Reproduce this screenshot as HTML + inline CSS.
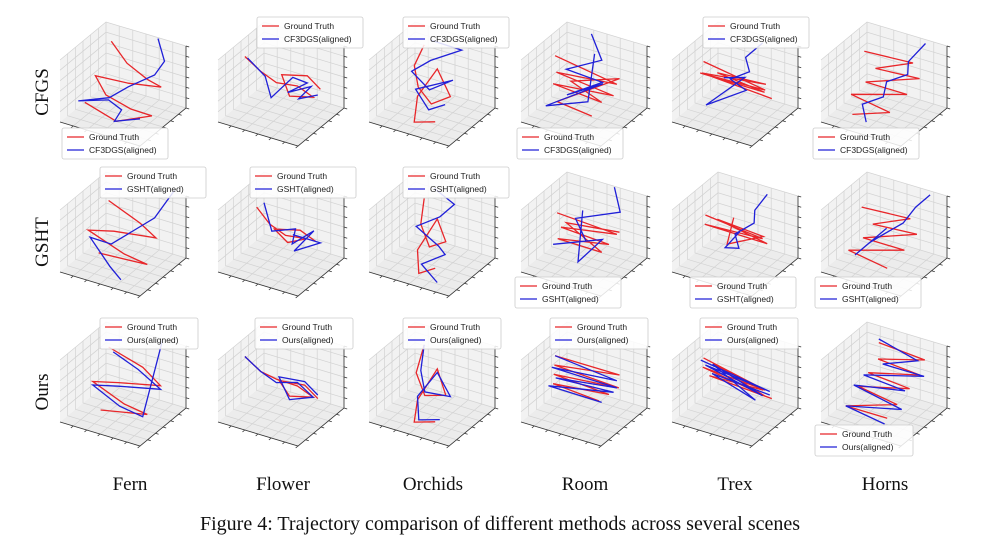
<!DOCTYPE html>
<html><head><meta charset="utf-8">
<style>
html,body{margin:0;padding:0;background:#fff;}
svg{display:block;font-family:"Liberation Serif",serif;}
.leg{font-family:"Liberation Sans",sans-serif;font-size:8.5px;fill:#222;}
</style></head>
<body>
<svg id="fig" width="1000" height="551" viewBox="0 0 1000 551">
<g id="panels"></g>
<g font-size="19" fill="#111">
<text transform="translate(48,92) rotate(-90)" text-anchor="middle">CFGS</text>
<text transform="translate(48,242) rotate(-90)" text-anchor="middle">GSHT</text>
<text transform="translate(48,392) rotate(-90)" text-anchor="middle">Ours</text>
</g>
<g font-size="19" fill="#111" text-anchor="middle">
<text x="130" y="490">Fern</text>
<text x="283" y="490">Flower</text>
<text x="433" y="490">Orchids</text>
<text x="585" y="490">Room</text>
<text x="735" y="490">Trex</text>
<text x="885" y="490">Horns</text>
</g>
<text x="500" y="530" font-size="20" text-anchor="middle" fill="#111">Figure 4: Trajectory comparison of different methods across several scenes</text>
</svg>
<script>
const colCenters = [123, 281, 432, 584, 735, 884];
const rowCenters = [84, 234, 384];
const methods = ["CF3DGS(aligned)", "GSHT(aligned)", "Ours(aligned)"];
const legendPos = [["b","t","t","b","t","b"],["t","t","t","b","b","b"],["t","t","t","t","t","b"]];
const legendX = [[62,257,403,517,703,813],[100,250,403,515,690,815],[100,255,403,550,700,815]];
const gt = [
 [[-0.6,0.6,0.6],[-0.2,0.5,0.2],[0.3,0.4,0],[0.6,0.4,-0.1],[0,0.2,-0.1],[-0.6,0,0],[-0.2,-0.3,-0.2],[0.4,-0.4,-0.3],[0.8,-0.3,-0.4],[0.2,-0.6,-0.6],[-0.6,-0.4,-0.5]],
 [[-0.9,0.2,0.3],[-0.5,0.1,0.1],[-0.1,0,0],[0.3,0.1,0],[0.7,0,-0.1],[0.3,-0.2,-0.1],[-0.1,0.2,0.1],[0.4,0.3,0.2],[0.8,0.1,0.1]],
 [[-0.4,0.4,0.7],[-0.5,0.2,0.2],[-0.3,0,-0.2],[0.1,-0.2,-0.4],[0.4,0,-0.2],[0,0.2,0.3],[-0.2,-0.2,-0.3],[-0.1,-0.5,-0.8],[0.3,-0.4,-0.7]],
 [[-0.8,0.3,0.3],[0.6,0.2,0.1],[-0.6,0,0.1],[0.7,-0.1,0],[-0.5,-0.3,0],[0.5,-0.2,-0.2],[-0.4,0.2,-0.2],[0.6,0.3,0.2],[-0.3,-0.5,-0.3],[0.4,-0.4,-0.5]],
 [[-0.8,0.2,0.2],[0.6,0.1,0],[-0.7,-0.1,0.1],[0.7,-0.1,0.1],[-0.5,0.2,0],[0.5,0.3,0],[-0.6,-0.2,0.2],[0.8,0,-0.1]],
 [[-0.6,0.3,0.5],[0.4,0.4,0.5],[-0.3,0.2,0.2],[0.6,0.3,0.2],[-0.4,0,-0.1],[0.5,0,-0.1],[-0.6,-0.2,-0.4],[0.3,-0.3,-0.5],[-0.4,-0.5,-0.7]],
 [[-0.6,0.5,0.4],[0.2,0.3,0.2],[0.6,0.2,0],[-0.2,0,0],[-0.7,-0.1,-0.1],[0.2,-0.3,-0.3],[0.7,-0.3,-0.4],[-0.3,-0.4,-0.4]],
 [[-0.7,0.3,0.3],[-0.3,0.1,0.1],[0.1,0,0],[0.5,0.1,0],[0.2,-0.1,-0.1],[-0.2,0.1,0],[0.3,0.2,0.1],[0.7,0.1,0]],
 [[-0.4,0.4,0.6],[-0.3,0.1,0.1],[0,-0.1,-0.3],[0.3,0,-0.1],[0,0.2,0.3],[-0.2,-0.2,-0.4],[0,-0.5,-0.8],[0.3,-0.4,-0.6]],
 [[-0.7,0.2,0.2],[0.6,0.2,0.1],[-0.5,0,0],[0.6,-0.1,0],[-0.4,-0.3,-0.1],[0.5,-0.2,-0.2],[-0.5,0.2,0],[0.6,0.3,0.1]],
 [[-0.7,0.1,0.2],[0.6,0,0.1],[-0.6,-0.1,0.1],[0.7,0,0],[-0.5,0.2,0.1],[0.5,0.2,0],[0,-0.3,-0.1],[-0.2,0.3,0.2]],
 [[-0.6,0.2,0.4],[0.4,0.3,0.4],[-0.3,0.1,0.1],[0.6,0.2,0.1],[-0.4,-0.1,-0.2],[0.5,-0.1,-0.2],[-0.6,-0.3,-0.5],[0.3,-0.4,-0.6]],
 [[-0.6,0.5,0.5],[0.2,0.4,0.3],[0.7,0.2,0.1],[-0.1,0,0],[-0.6,-0.1,-0.1],[0.2,-0.3,-0.3],[0.7,-0.3,-0.4],[-0.2,-0.5,-0.5]],
 [[-0.9,0.2,0.3],[-0.5,0.1,0.1],[-0.1,0,0.1],[0.3,0.1,0],[0.7,0,-0.1],[0.3,-0.2,-0.1],[-0.1,0.1,0],[0.4,0.2,0],[0.8,0,-0.1]],
 [[-0.4,0.4,0.7],[-0.4,0.1,0.1],[-0.1,-0.1,-0.3],[0.3,0,-0.2],[0,0.2,0.3],[-0.2,-0.2,-0.4],[-0.1,-0.5,-0.8],[0.3,-0.4,-0.7]],
 [[-0.8,0.3,0.3],[0.6,0.3,0.3],[-0.7,0.1,0.2],[0.7,0.1,0.1],[-0.6,-0.1,0.1],[0.6,-0.1,0],[-0.5,-0.3,0],[0.5,-0.3,-0.1]],
 [[-0.8,0.2,0.3],[0.6,0.1,0],[-0.7,0,0.2],[0.7,-0.1,0],[-0.6,0.2,0.2],[0.5,0.2,-0.1],[-0.5,-0.1,0.1],[0.8,0,-0.1]],
 [[-0.4,0.5,0.7],[0.6,0.5,0.6],[-0.3,0.3,0.4],[0.6,0.3,0.3],[-0.4,0.1,0.1],[0.5,0.1,0],[-0.5,-0.1,-0.2],[0.4,-0.2,-0.3],[-0.6,-0.4,-0.6],[0.3,-0.4,-0.6]]
];
const est = [
 [[0.3,0.8,0.9],[0.5,0.7,0.4],[0.4,0.5,0.1],[0,0.2,-0.2],[-0.3,0,-0.5],[-0.8,-0.3,-0.6],[-0.2,-0.2,-0.4],[0.2,-0.4,-0.4],[0.1,-0.5,-0.7],[0.6,-0.4,-0.5]],
 [[-0.9,0.3,0.2],[-0.4,0.1,0],[-0.1,-0.2,-0.3],[0.2,0.1,0.2],[0.4,0.3,0],[0.2,-0.1,-0.1],[0.6,0.1,0.1],[0.5,-0.2,-0.1],[0.8,0,0]],
 [[-0.3,0.5,0.8],[0.3,0.6,0.7],[-0.2,0.3,0.4],[-0.5,0.1,0.1],[0,-0.1,-0.1],[0.4,0.1,0.2],[-0.3,-0.1,-0.2],[0.1,-0.3,-0.5],[0.4,-0.2,-0.3]],
 [[-0.3,0.8,0.8],[0.1,0.5,0.4],[-0.5,0.2,0.1],[0.4,0,0.2],[-0.2,-0.3,-0.2],[0.3,0.2,0],[-0.6,-0.4,-0.6],[0.2,-0.2,-0.3],[0,0.4,0.6]],
 [[0.2,0.7,0.8],[0,0.4,0.5],[0.2,0.2,0.3],[-0.1,0,0.1],[0.3,-0.1,0],[-0.4,-0.4,-0.5],[0.1,0.2,0.1],[-0.3,0.1,0]],
 [[0.5,0.7,0.9],[0.3,0.4,0.5],[0.4,0.2,0.3],[0,0.1,0],[0.1,-0.2,-0.2],[-0.3,-0.3,-0.5],[-0.1,-0.5,-0.8]],
 [[0.6,0.9,0.9],[0.4,0.5,0.3],[0.1,0.2,0],[-0.2,-0.1,-0.3],[-0.6,-0.2,-0.2],[0,-0.5,-0.6],[0.3,-0.6,-0.8]],
 [[-0.6,0.4,0.4],[-0.2,0,0],[0.2,0.2,0.1],[0.3,-0.1,-0.1],[0.6,0.2,0.2],[0.4,-0.2,-0.2],[0.8,0.1,0],[0.2,0.1,0]],
 [[-0.3,0.6,0.8],[0.2,0.5,0.6],[0,0.3,0.3],[-0.4,0.1,0],[0.2,-0.1,-0.2],[0.4,-0.2,-0.3],[0,-0.4,-0.6],[0.4,-0.5,-0.9]],
 [[0.2,0.8,0.9],[0.5,0.5,0.5],[-0.3,0.2,0.2],[0.1,-0.1,-0.1],[-0.5,-0.3,-0.3],[0.4,0,0],[0.1,-0.4,-0.5],[-0.2,0.3,0.4]],
 [[0.3,0.7,0.8],[0.2,0.4,0.5],[0.3,0.2,0.3],[0,0,0],[0.2,-0.2,-0.2],[-0.1,-0.2,-0.3],[0.1,0,0.1]],
 [[0.6,0.7,0.9],[0.4,0.5,0.6],[0.3,0.2,0.3],[0,0,0],[-0.2,-0.2,-0.2],[-0.4,-0.4,-0.5],[0,0.1,0.1]],
 [[-0.5,0.5,0.4],[0.1,0.4,0.2],[0.7,0.2,0],[-0.1,0,-0.1],[-0.6,-0.1,-0.2],[0.1,-0.3,-0.4],[0.6,-0.3,-0.5],[0.4,0.8,0.9]],
 [[-0.9,0.2,0.3],[-0.5,0.1,0.1],[-0.1,0,0],[0.3,0.1,0.1],[0.7,0,-0.1],[0.3,-0.2,-0.2],[-0.1,0.1,0.1],[0.4,0.2,0.1],[0.8,0,0]],
 [[-0.4,0.4,0.7],[-0.3,0.1,0.2],[-0.1,-0.1,-0.2],[0.4,0,-0.2],[0,0.2,0.2],[-0.2,-0.2,-0.3],[0,-0.5,-0.7],[0.4,-0.4,-0.6]],
 [[-0.8,0.3,0.3],[0.6,0.2,0.2],[-0.7,0,0.2],[0.6,0.2,0],[-0.5,-0.2,0.1],[0.7,-0.1,0.1],[-0.6,-0.3,-0.1],[0.5,-0.2,-0.2]],
 [[-0.8,0.1,0.3],[0.7,0.1,0],[-0.7,0.1,0.2],[0.6,0,-0.1],[-0.6,0.2,0.2],[0.5,-0.1,-0.2],[-0.5,0,0.1],[0.7,0.1,-0.1]],
 [[-0.4,0.5,0.8],[0.5,0.4,0.6],[-0.2,0.3,0.3],[0.7,0.3,0.3],[-0.5,0.1,0],[0.4,0.1,-0.1],[-0.6,-0.1,-0.2],[0.5,-0.2,-0.4],[-0.6,-0.4,-0.6],[0.3,-0.5,-0.7]]
];
const NS = "http://www.w3.org/2000/svg";
function proj(cx, cy, p) {
  return [cx + 40*p[0] + 23*p[1], cy + 12*p[0] - 19*p[1] - 31*p[2]];
}
function mk(tag, attrs, parent) {
  const e = document.createElementNS(NS, tag);
  for (const k in attrs) e.setAttribute(k, attrs[k]);
  parent.appendChild(e); return e;
}
function poly(cx, cy, pts, k) { k = k || 1; return pts.map(p => proj(cx, cy, [p[0]*k, p[1]*k, p[2]*k]).map(v => v.toFixed(1)).join(",")).join(" "); }
const root = document.getElementById("panels");
for (let r = 0; r < 3; r++) for (let c = 0; c < 6; c++) {
  const i = r*6 + c, cx = colCenters[c], cy = rowCenters[r];
  const g = mk("g", {}, root);
  
  
  const panes = [
    [[-1,-1,-1],[1,-1,-1],[1,1,-1],[-1,1,-1]],
    [[-1,-1,-1],[-1,1,-1],[-1,1,1],[-1,-1,1]],
    [[-1,1,-1],[1,1,-1],[1,1,1],[-1,1,1]]
  ];
  panes.forEach((pp, k) => {
    const pe = mk("polygon", {points: poly(cx, cy, pp), fill: k==0?"#ececec":"#f2f2f2", stroke: "none"}, g);
    
    
  });
  const ticks = [-0.67,-0.33,0,0.33,0.67,1];
  const gs = {stroke: "#d2d2d2", "stroke-width": 0.7, fill: "none"};
  ticks.forEach(t => {
    mk("polyline", Object.assign({points: poly(cx, cy, [[t,-1,-1],[t,1,-1],[t,1,1]])}, gs), g);
    mk("polyline", Object.assign({points: poly(cx, cy, [[1,t,-1],[-1,t,-1],[-1,t,1]])}, gs), g);
    mk("polyline", Object.assign({points: poly(cx, cy, [[-1,-1,t],[-1,1,t],[1,1,t]])}, gs), g);
  });
  const ax = {stroke: "#333", "stroke-width": 0.8, fill: "none"};
  mk("polyline", Object.assign({points: poly(cx, cy, [[-1,-1,-1],[1,-1,-1],[1,1,-1],[1,1,1]])}, ax), g);
  ticks.forEach(t => {
    mk("polyline", Object.assign({points: poly(cx, cy, [[t,-1,-1],[t,-1.1,-1]])}, ax), g);
    mk("polyline", Object.assign({points: poly(cx, cy, [[1,t,-1],[1.08,t,-1]])}, ax), g);
    mk("polyline", Object.assign({points: poly(cx, cy, [[1,1,t],[1.08,1,t]])}, ax), g);
  });
  const red = mk("polyline", {points: poly(cx, cy, gt[i], 1.15), fill: "none", stroke: "#e8262a", "stroke-width": 1.3}, g);
  
  
  const blue = mk("polyline", {points: poly(cx, cy, est[i], 1.15), fill: "none", stroke: "#2020d8", "stroke-width": 1.3}, g);
  
  
  const lx = legendX[r][c];
  const ly = legendPos[r][c] === "t" ? [17,167,318][r] : [128,277,425][r];
  const lw = r === 2 ? 98 : 106;
  const lg = mk("g", {}, g);
  
  
  mk("rect", {x: lx, y: ly, width: lw, height: 31, rx: 2, fill: "#fff", "fill-opacity": 0.85, stroke: "#ccc", "stroke-width": 0.8}, lg);
  mk("line", {x1: lx+5, y1: ly+9, x2: lx+22, y2: ly+9, stroke: "#e8262a", "stroke-width": 1.3}, lg);
  mk("line", {x1: lx+5, y1: ly+22, x2: lx+22, y2: ly+22, stroke: "#2020d8", "stroke-width": 1.3}, lg);
  const t1 = mk("text", {x: lx+27, y: ly+12, class: "leg"}, lg); t1.textContent = "Ground Truth";
  
  
  const t2 = mk("text", {x: lx+27, y: ly+25, class: "leg"}, lg); t2.textContent = methods[r];
  
  
}
</script>
</body></html>
